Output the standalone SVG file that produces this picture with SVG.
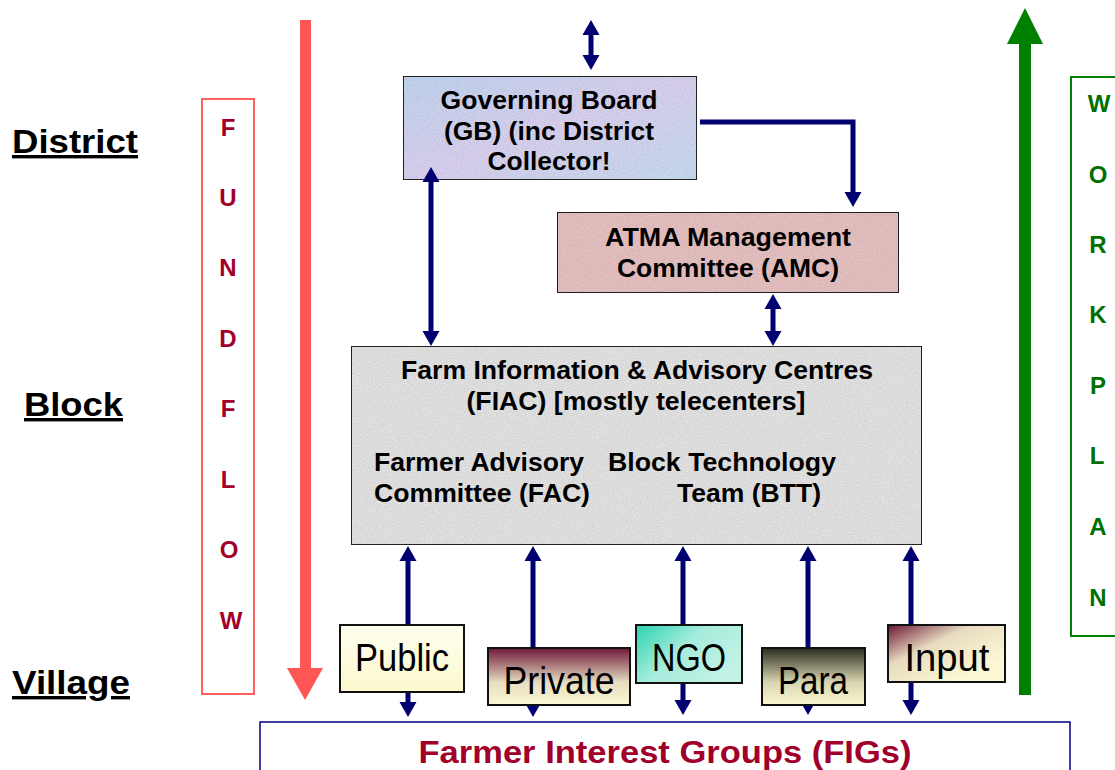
<svg xmlns="http://www.w3.org/2000/svg" width="1115" height="770" viewBox="0 0 1115 770">
<style>
.lvl{font-family:"Liberation Sans",Arial,sans-serif;font-weight:bold;font-size:34px;fill:#000;text-decoration:underline}
.bt{font-family:"Liberation Sans",Arial,sans-serif;font-weight:bold;font-size:25px;fill:#000}
.sm{font-family:"Liberation Sans",Arial,sans-serif;font-size:38px;fill:#000}
.ff{font-family:"Liberation Sans",Arial,sans-serif;font-weight:bold;font-size:24px;fill:#a0002a}
.wp{font-family:"Liberation Sans",Arial,sans-serif;font-weight:bold;font-size:24px;fill:#007000}
.box{stroke:#222;stroke-width:2}
.sbox{stroke:#111;stroke-width:2}
.con{fill:none;stroke:#000070;stroke-width:5}
</style>
<defs>
<marker id="ah" markerUnits="userSpaceOnUse" markerWidth="17" markerHeight="17" viewBox="0 0 15 17" refX="1" refY="8.5" orient="auto-start-reverse" overflow="visible">
<path d="M0,0 L15,8.5 L0,17 z" fill="#000070"/>
</marker>
<linearGradient id="gGB" x1="0" y1="0" x2="1" y2="1">
<stop offset="0" stop-color="#c4d8f4"/><stop offset="0.5" stop-color="#dcd4f2"/><stop offset="1" stop-color="#cadef4"/>
</linearGradient>
<filter id="grain" x="0" y="0" width="1" height="1">
<feTurbulence type="fractalNoise" baseFrequency="0.9" numOctaves="2" seed="3" result="n"/>
<feColorMatrix in="n" type="matrix" values="0 0 0 0 0  0 0 0 0 0  0 0 0 0 0  0 0 0 0.35 -0.08" result="d"/>
<feComposite in="d" in2="SourceGraphic" operator="atop"/>
</filter>
<linearGradient id="gPub" x1="0" y1="0" x2="0" y2="1">
<stop offset="0" stop-color="#fffff0"/><stop offset="1" stop-color="#fbf8cc"/>
</linearGradient>
<linearGradient id="gPriv" x1="0" y1="0" x2="0" y2="1">
<stop offset="0" stop-color="#6e1838"/><stop offset="0.6" stop-color="#e6dcc0"/><stop offset="1" stop-color="#fcf8d4"/>
</linearGradient>
<linearGradient id="gNGO" x1="0" y1="0" x2="1" y2="0.6">
<stop offset="0" stop-color="#2ad2b0"/><stop offset="0.5" stop-color="#a6ecdc"/><stop offset="1" stop-color="#c2f2e6"/>
</linearGradient>
<linearGradient id="gPara" x1="0" y1="0" x2="0" y2="1">
<stop offset="0" stop-color="#2a2a1e"/><stop offset="0.6" stop-color="#d8d6b0"/><stop offset="1" stop-color="#fcf8d0"/>
</linearGradient>
<linearGradient id="gInp" x1="0" y1="0" x2="0.8" y2="0.8">
<stop offset="0" stop-color="#6a1434"/><stop offset="0.45" stop-color="#e8dcc0"/><stop offset="1" stop-color="#fcf8d4"/>
</linearGradient>
</defs>

<g id="levels">
<text class="lvl" x="12" y="153" textLength="126" lengthAdjust="spacingAndGlyphs">District</text>
<text class="lvl" x="24" y="416" textLength="99" lengthAdjust="spacingAndGlyphs">Block</text>
<text class="lvl" x="12" y="694" textLength="118" lengthAdjust="spacingAndGlyphs">Village</text>
</g>

<g id="fundflow">
<rect x="202" y="99" width="52" height="595" fill="none" stroke="#ff6060" stroke-width="2"/>
<g text-anchor="middle">
<text class="ff" x="228" y="136">F</text>
<text class="ff" x="228" y="206">U</text>
<text class="ff" x="228" y="276">N</text>
<text class="ff" x="228" y="347">D</text>
<text class="ff" x="228" y="417">F</text>
<text class="ff" x="228" y="488">L</text>
<text class="ff" x="229" y="558">O</text>
<text class="ff" x="231" y="629">W</text>
</g>
<rect x="300" y="20" width="11" height="652" fill="#ff5555"/>
<polygon points="287,668 323,668 305,700" fill="#ff5555"/>
</g>

<g id="workplan">
<rect x="1071" y="77" width="60" height="559" fill="none" stroke="#008000" stroke-width="2"/>
<g text-anchor="middle">
<text class="wp" x="1099" y="112">W</text>
<text class="wp" x="1098" y="183">O</text>
<text class="wp" x="1098" y="253">R</text>
<text class="wp" x="1098" y="323">K</text>
<text class="wp" x="1098" y="394">P</text>
<text class="wp" x="1097" y="464">L</text>
<text class="wp" x="1098" y="535">A</text>
<text class="wp" x="1098" y="606">N</text>
</g>
<rect x="1019" y="40" width="12" height="655" fill="#008000"/>
<polygon points="1007,44 1043,44 1025,8" fill="#008000"/>
</g>

<g id="gb">
<rect class="box" x="403" y="76" width="294" height="104" fill="url(#gGB)" filter="url(#grain)"/>
<g text-anchor="middle">
<text class="bt" x="549" y="109" textLength="217" lengthAdjust="spacingAndGlyphs">Governing Board</text>
<text class="bt" x="549" y="140" textLength="210" lengthAdjust="spacingAndGlyphs">(GB) (inc District</text>
<text class="bt" x="549" y="170" textLength="123" lengthAdjust="spacingAndGlyphs">Collector!</text>
</g>
</g>

<g id="amc">
<rect class="box" x="557" y="212" width="342" height="81" fill="#e9c3c3" filter="url(#grain)"/>
<g text-anchor="middle">
<text class="bt" x="728" y="246" textLength="246" lengthAdjust="spacingAndGlyphs">ATMA Management</text>
<text class="bt" x="728" y="277" textLength="222" lengthAdjust="spacingAndGlyphs">Committee (AMC)</text>
</g>
</g>

<g id="fiac">
<rect class="box" x="351" y="346" width="571" height="199" fill="#e6e6e6" filter="url(#grain)"/>
<g text-anchor="middle">
<text class="bt" x="637" y="379" textLength="472" lengthAdjust="spacingAndGlyphs">Farm Information &amp; Advisory Centres</text>
<text class="bt" x="636" y="410" textLength="339" lengthAdjust="spacingAndGlyphs">(FIAC) [mostly telecenters]</text>
</g>
<text class="bt" x="374" y="471" textLength="210" lengthAdjust="spacingAndGlyphs">Farmer Advisory</text>
<text class="bt" x="374" y="502" textLength="216" lengthAdjust="spacingAndGlyphs">Committee (FAC)</text>
<text class="bt" x="608" y="471" textLength="228" lengthAdjust="spacingAndGlyphs">Block Technology</text>
<text class="bt" x="677" y="502" textLength="144" lengthAdjust="spacingAndGlyphs">Team (BTT)</text>
</g>

<g id="connectors">
<line class="con" x1="591" y1="34" x2="591" y2="56" marker-start="url(#ah)" marker-end="url(#ah)"/>
<polyline class="con" points="700,122 853,122 853,193" marker-end="url(#ah)"/>
<line class="con" x1="431" y1="181" x2="431" y2="332" marker-start="url(#ah)" marker-end="url(#ah)"/>
<line class="con" x1="773" y1="308" x2="773" y2="332" marker-start="url(#ah)" marker-end="url(#ah)"/>
<line class="con" x1="408" y1="560" x2="408" y2="703" marker-start="url(#ah)" marker-end="url(#ah)"/>
<line class="con" x1="533" y1="560" x2="533" y2="703" marker-start="url(#ah)" marker-end="url(#ah)"/>
<line class="con" x1="683" y1="560" x2="683" y2="701" marker-start="url(#ah)" marker-end="url(#ah)"/>
<line class="con" x1="808" y1="560" x2="808" y2="701" marker-start="url(#ah)" marker-end="url(#ah)"/>
<line class="con" x1="911" y1="560" x2="911" y2="701" marker-start="url(#ah)" marker-end="url(#ah)"/>
</g>

<g id="public">
<rect class="sbox" x="340" y="625" width="124" height="67" fill="url(#gPub)"/>
<text class="sm" x="402" y="671" text-anchor="middle" textLength="94" lengthAdjust="spacingAndGlyphs">Public</text>
</g>
<g id="private">
<rect class="sbox" x="488" y="648" width="142" height="57" fill="url(#gPriv)"/>
<text class="sm" x="559" y="694" text-anchor="middle" textLength="111" lengthAdjust="spacingAndGlyphs">Private</text>
</g>
<g id="ngo">
<rect class="sbox" x="636" y="625" width="106" height="58" fill="url(#gNGO)"/>
<text class="sm" x="689" y="671" text-anchor="middle" textLength="74" lengthAdjust="spacingAndGlyphs">NGO</text>
</g>
<g id="para">
<rect class="sbox" x="762" y="648" width="103" height="57" fill="url(#gPara)"/>
<text class="sm" x="813" y="694" text-anchor="middle" textLength="70" lengthAdjust="spacingAndGlyphs">Para</text>
</g>
<g id="input">
<rect class="sbox" x="888" y="625" width="117" height="57" fill="url(#gInp)"/>
<text class="sm" x="947" y="671" text-anchor="middle" textLength="85" lengthAdjust="spacingAndGlyphs">Input</text>
</g>

<g id="figs">
<rect x="260" y="722" width="810" height="60" fill="none" stroke="#000080" stroke-width="1.5"/>
<text x="665" y="763" text-anchor="middle" font-family="'Liberation Sans',Arial,sans-serif" font-weight="bold" font-size="31" fill="#a0002a" textLength="493" lengthAdjust="spacingAndGlyphs">Farmer Interest Groups (FIGs)</text>
</g>
</svg>
